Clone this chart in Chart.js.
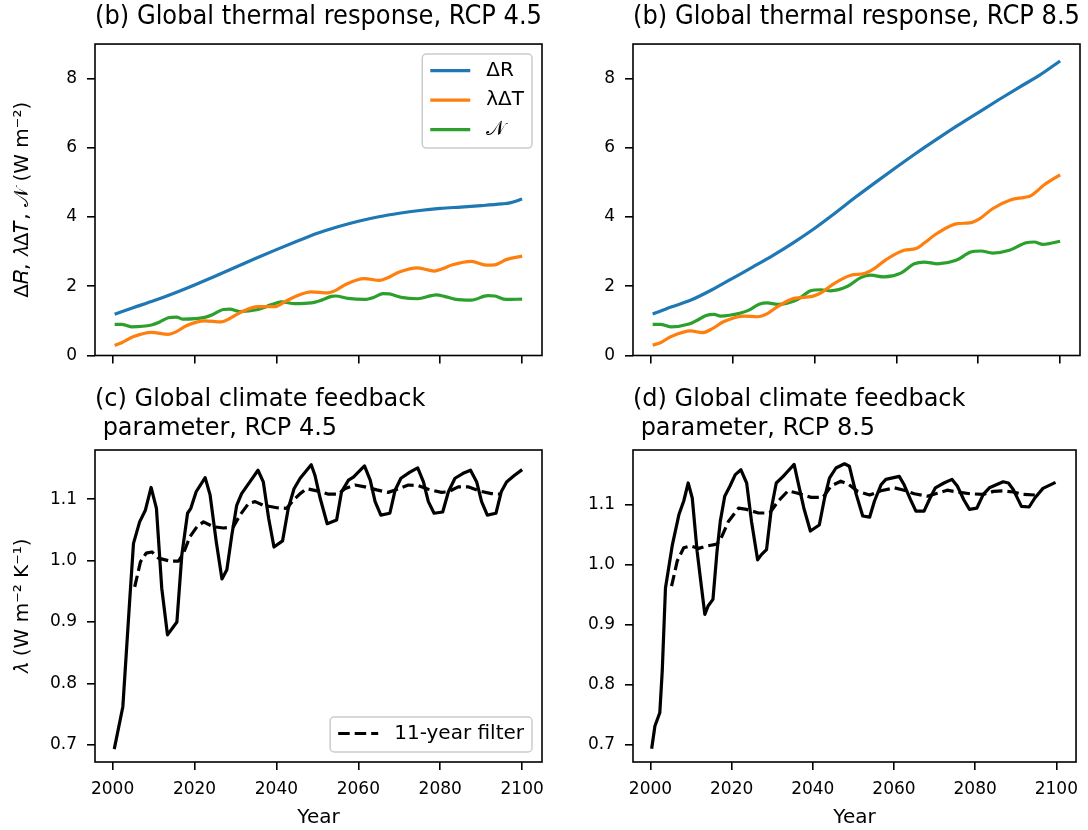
<!DOCTYPE html>
<html>
<head>
<meta charset="utf-8">
<script src="https://cdn.jsdelivr.net/npm/chart.js@4.4.0/dist/chart.umd.min.js"></script>
<style>
  html, body { margin: 0; padding: 0; background: #fff; }
  #wrap { position: relative; width: 1088px; height: 830px; overflow: hidden; }
  canvas { position: absolute; }
</style>
</head>
<body>
<div id="wrap">
  <canvas id="tl" width="560" height="380" style="left:0;top:0"></canvas>
  <canvas id="tr" width="528" height="380" style="left:560px;top:0"></canvas>
  <canvas id="bl" width="560" height="450" style="left:0;top:380px"></canvas>
  <canvas id="br" width="528" height="450" style="left:560px;top:380px"></canvas>
</div>
<script>
// --- tick labels ---
const yearTicks = [2000, 2020, 2040, 2060, 2080, 2100];
const fluxTicks = [0, 2, 4, 6, 8];
const lambdaTicks = [0.7, 0.8, 0.9, 1.0, 1.1];

// --- RCP 4.5, thermal response (W m-2), [year, value] ---
const rcp45_dR = [[2000.5,1.19],[2005,1.38],[2010,1.58],[2015,1.80],[2020,2.04],[2025,2.29],[2030,2.55],
  [2035,2.81],[2040,3.06],[2045,3.30],[2050,3.53],[2055,3.72],[2060,3.88],[2065,4.01],[2070,4.11],
  [2075,4.19],[2080,4.25],[2085,4.29],[2090,4.33],[2095,4.38],[2097,4.41],[2100,4.52]];
const rcp45_lamdT = [[2000.5,0.29],[2002.2,0.37],[2005,0.54],[2009.5,0.67],[2013.6,0.61],[2015.6,0.69],
  [2018,0.86],[2022.5,1.00],[2026.6,0.97],[2028.6,1.07],[2031,1.23],[2035.5,1.41],[2039.6,1.41],
  [2042,1.55],[2044.9,1.72],[2048.5,1.84],[2052.6,1.81],[2054.6,1.89],[2057,2.06],[2061.5,2.22],
  [2065.2,2.17],[2067.6,2.27],[2070,2.41],[2074.5,2.53],[2078.6,2.44],[2080.2,2.49],[2083,2.62],
  [2087.6,2.72],[2091.2,2.61],[2093.3,2.62],[2096.1,2.77],[2100,2.87]];
const rcp45_N = [[2000.5,0.90],[2002.2,0.90],[2004.6,0.83],[2009.5,0.88],[2011.5,0.97],[2013.6,1.09],
  [2015.6,1.11],[2017.2,1.05],[2022.5,1.10],[2024.6,1.19],[2027,1.33],[2028.6,1.34],[2031,1.27],
  [2035.5,1.33],[2038.8,1.47],[2041.2,1.55],[2044.5,1.50],[2048.5,1.52],[2051,1.60],[2053.4,1.71],
  [2054.4,1.72],[2057.5,1.65],[2061.5,1.62],[2064,1.69],[2066,1.79],[2067.6,1.78],[2070.5,1.68],
  [2074.5,1.64],[2077.8,1.73],[2079,1.75],[2081,1.71],[2083.5,1.63],[2087.6,1.60],[2091.6,1.73],
  [2093.3,1.72],[2096.1,1.62],[2100,1.63]];

// --- RCP 8.5, thermal response (W m-2) ---
const rcp85_dR = [[2000.5,1.20],[2005,1.40],[2010,1.61],[2015,1.90],[2020,2.23],[2025,2.56],[2030,2.90],
  [2035,3.27],[2040,3.67],[2045,4.11],[2050,4.57],[2055,5.01],[2060,5.44],[2065,5.86],[2070,6.26],
  [2075,6.65],[2080,7.02],[2085,7.39],[2090,7.75],[2095,8.10],[2100,8.51]];
const rcp85_lamdT = [[2000.5,0.30],[2002.4,0.37],[2004.9,0.54],[2009.8,0.71],[2012.6,0.66],[2014.7,0.75],
  [2017.9,0.98],[2022.8,1.14],[2026.1,1.12],[2028.5,1.21],[2031,1.41],[2035,1.65],[2039.5,1.71],
  [2042,1.84],[2044.8,2.08],[2048.9,2.32],[2052.2,2.37],[2054.6,2.51],[2057.5,2.77],[2061.9,3.04],
  [2064.8,3.09],[2066.8,3.25],[2070.1,3.54],[2074.9,3.81],[2077.8,3.83],[2080.3,3.95],[2083.5,4.24],
  [2088,4.50],[2091.3,4.57],[2092.9,4.62],[2096.2,4.94],[2100,5.22]];
const rcp85_N = [[2000.5,0.90],[2002.4,0.90],[2004.9,0.83],[2009.4,0.91],[2011.4,1.02],[2013.4,1.15],
  [2015.5,1.19],[2017.1,1.14],[2022,1.23],[2024,1.31],[2026.5,1.48],[2028.5,1.52],[2031,1.48],
  [2035.9,1.62],[2039.1,1.87],[2041.6,1.90],[2044,1.87],[2048.1,2.00],[2051.3,2.25],[2053.8,2.32],
  [2057,2.27],[2061.1,2.38],[2064.4,2.65],[2066.8,2.70],[2070.1,2.65],[2074.6,2.75],[2078.2,2.99],
  [2080.7,3.02],[2083.5,2.96],[2087.6,3.04],[2091.7,3.26],[2093.7,3.28],[2095.8,3.21],[2100,3.30]];

// --- climate feedback parameter (W m-2 K-1) ---
const rcp45_lambda = [[2000.4,0.693],[2002.5,0.762],[2004.2,0.938],[2005.1,1.028],[2006.6,1.063],
  [2008,1.082],[2009.4,1.119],[2010.7,1.085],[2012,0.955],[2013.4,0.879],[2015.7,0.900],[2016.9,1.009],
  [2018.3,1.077],[2019.1,1.085],[2020.4,1.112],[2022.6,1.135],[2023.8,1.107],[2025.3,1.031],
  [2026.7,0.970],[2027.9,0.985],[2029.1,1.041],[2030.3,1.090],[2031.5,1.109],[2033.6,1.129],
  [2035.5,1.147],[2036.8,1.128],[2038.1,1.069],[2039.4,1.022],[2041.5,1.032],[2042.9,1.085],
  [2044.3,1.117],[2045.8,1.134],[2048.5,1.156],[2049.4,1.139],[2050.7,1.101],[2052.4,1.060],
  [2054.7,1.066],[2055.9,1.112],[2057.6,1.131],[2058.8,1.136],[2061.5,1.154],[2062.9,1.131],
  [2064.1,1.096],[2065.5,1.074],[2067.7,1.077],[2069,1.115],[2070.4,1.134],[2072.6,1.144],
  [2074.5,1.151],[2075.9,1.128],[2077.1,1.096],[2078.5,1.077],[2080.6,1.079],[2082,1.112],
  [2083.6,1.134],[2085.6,1.142],[2087.4,1.147],[2088.9,1.128],[2090.1,1.096],[2091.5,1.074],
  [2093.6,1.077],[2094.9,1.112],[2096.2,1.128],[2098,1.138],[2100,1.148]];
const rcp45_lambda11 = [[2005.4,0.957],[2006.8,0.998],[2008.2,1.012],[2009.6,1.014],[2011.2,1.004],
  [2014.1,0.999],[2016.1,0.999],[2017.3,1.012],[2018.9,1.039],[2020.6,1.055],[2022.2,1.063],
  [2024.6,1.055],[2027.1,1.053],[2029.5,1.055],[2031.1,1.074],[2033.2,1.093],[2034.8,1.096],
  [2036.8,1.090],[2040.1,1.086],[2042.5,1.085],[2044.1,1.098],[2045.8,1.109],[2047.4,1.117],
  [2050.2,1.113],[2052.7,1.108],[2055.1,1.108],[2056.7,1.117],[2059.2,1.123],[2061.6,1.120],
  [2064.5,1.115],[2067.3,1.111],[2069,1.115],[2072.2,1.123],[2074.6,1.122],[2077.1,1.116],
  [2080.3,1.111],[2082,1.112],[2084.4,1.120],[2086.8,1.120],[2089.7,1.113],[2092.5,1.109],[2095,1.108]];
const rcp85_lambda = [[2000.3,0.693],[2001.1,0.731],[2002.3,0.753],[2002.9,0.822],[2003.7,0.961],
  [2005.4,1.033],[2007,1.083],[2008.2,1.106],[2009.3,1.136],[2010.3,1.111],[2011.5,1.022],
  [2012.6,0.961],[2013.4,0.917],[2014.2,0.931],[2015.4,0.942],[2016.4,1.022],[2017.2,1.072],
  [2018.3,1.114],[2019.6,1.131],[2020.9,1.150],[2022.3,1.158],[2023.7,1.136],[2024.9,1.072],
  [2026.4,1.008],[2027.4,1.017],[2028.6,1.025],[2029.8,1.094],[2031,1.136],[2032.7,1.147],
  [2033.9,1.156],[2035.4,1.167],[2036.3,1.139],[2037.8,1.094],[2039.4,1.056],[2041.6,1.066],
  [2042.9,1.111],[2044.1,1.144],[2045.7,1.161],[2047.8,1.168],[2049,1.164],[2050.7,1.117],
  [2052.3,1.081],[2054,1.079],[2055.2,1.106],[2056.8,1.133],[2058,1.142],[2061.3,1.147],
  [2062.5,1.133],[2064.1,1.108],[2065.4,1.089],[2067.4,1.089],[2068.9,1.111],[2070.2,1.128],
  [2072.3,1.136],[2074.3,1.142],[2075.6,1.131],[2077.2,1.108],[2078.6,1.092],[2080.4,1.094],
  [2082,1.117],[2083.5,1.128],[2086.9,1.138],[2088.2,1.136],[2089.4,1.125],[2091.4,1.097],
  [2093.3,1.096],[2094.7,1.111],[2096.7,1.127],[2099.8,1.137]];
const rcp85_lambda11 = [[2005.2,0.964],[2006.6,1.006],[2008.2,1.028],[2009.9,1.031],[2011.9,1.027],
  [2013.9,1.031],[2016.4,1.034],[2017.6,1.047],[2019.2,1.072],[2021.7,1.094],[2023.7,1.092],
  [2026.6,1.086],[2029.4,1.086],[2031.5,1.106],[2033.9,1.123],[2036.3,1.119],[2039.6,1.112],
  [2042.5,1.112],[2044.5,1.131],[2046.9,1.139],[2048.8,1.134],[2051.1,1.122],[2054,1.116],
  [2056.8,1.123],[2060.1,1.128],[2062.5,1.124],[2065,1.118],[2068.2,1.114],[2070.7,1.119],
  [2073.1,1.124],[2075.6,1.121],[2078.8,1.118],[2082,1.117],[2084.5,1.122],[2086.9,1.123],
  [2089.4,1.121],[2091.8,1.117],[2094.7,1.116]];

Chart.defaults.font.family = "'DejaVu Sans', sans-serif";
Chart.defaults.color = '#000';

// box around the plotting area (matplotlib style spines)
const framePlugin = {
  id: 'frame',
  afterDatasetsDraw(chart) {
    const a = chart.chartArea, ctx = chart.ctx;
    ctx.save();
    ctx.strokeStyle = '#000';
    ctx.lineWidth = 1.6;
    ctx.strokeRect(a.left, a.top, a.right - a.left, a.bottom - a.top);
    ctx.restore();
  }
};

// legend drawn inside the plot area, built from the labelled datasets
const boxLegendPlugin = {
  id: 'boxLegend',
  afterDraw(chart, args, opts) {
    const items = chart.data.datasets.filter(d => d.label);
    if (!items.length) return;
    const ctx = chart.ctx, a = chart.chartArea;
    const pad = 8, hLen = 40, hGap = 16, first = 16.5, step = 29.5, last = 18.5;
    ctx.save();
    ctx.font = "20px 'DejaVu Sans'";
    const tw = Math.max(...items.map(d => ctx.measureText(d.label).width));
    const w = pad + hLen + hGap + tw + pad;
    const h = first + (items.length - 1) * step + last;
    const x = a.right - 10 - w;
    const y = opts.corner === 'se' ? a.bottom - 10 - h : a.top + 10;
    const r = 4;
    ctx.beginPath();
    ctx.moveTo(x + r, y);
    ctx.arcTo(x + w, y, x + w, y + h, r);
    ctx.arcTo(x + w, y + h, x, y + h, r);
    ctx.arcTo(x, y + h, x, y, r);
    ctx.arcTo(x, y, x + w, y, r);
    ctx.closePath();
    ctx.fillStyle = 'rgba(255,255,255,0.8)';
    ctx.fill();
    ctx.strokeStyle = '#cccccc';
    ctx.lineWidth = 1.5;
    ctx.stroke();
    items.forEach((d, i) => {
      const cy = y + first + i * step;
      ctx.beginPath();
      ctx.setLineDash(d.borderDash || []);
      ctx.strokeStyle = d.borderColor;
      ctx.lineWidth = d.borderWidth;
      ctx.moveTo(x + pad, cy);
      ctx.lineTo(x + pad + hLen, cy);
      ctx.stroke();
      ctx.setLineDash([]);
      ctx.fillStyle = '#000';
      ctx.textAlign = 'left';
      ctx.textBaseline = 'middle';
      ctx.fillText(d.label, x + pad + hLen + hGap, cy);
    });
    ctx.restore();
  }
};

function tickMarks() {
  return { display: true, drawOnChartArea: false, drawTicks: true, tickLength: 8, color: '#000', lineWidth: 1.6 };
}

function panel(id, o) {
  return new Chart(document.getElementById(id), {
    type: 'line',
    data: { datasets: o.datasets },
    plugins: [framePlugin, boxLegendPlugin],
    options: {
      responsive: false,
      animation: false,
      devicePixelRatio: 1,
      layout: { autoPadding: false, padding: { left: 0, right: o.padRight, top: 0, bottom: 0 } },
      elements: { point: { radius: 0 }, line: { tension: 0, borderJoinStyle: 'round' } },
      plugins: {
        legend: { display: false },
        tooltip: { enabled: false },
        title: {
          display: true, text: o.title, align: 'start', fullSize: false,
          color: '#000', font: { size: o.titleSize, weight: 'normal' }, padding: o.titlePad
        },
        boxLegend: { corner: o.legendCorner }
      },
      scales: {
        x: {
          type: 'linear', position: 'bottom', min: 1995.7, max: 2104.85,
          afterBuildTicks: s => { s.ticks = yearTicks.map(v => ({ value: v })); },
          afterFit: s => { s.height = o.xHeight; },
          grid: tickMarks(),
          border: { display: false },
          ticks: { display: o.xLabels, padding: 9.5, font: { size: 17 }, maxRotation: 0, callback: v => String(v) },
          title: { display: o.xLabels, text: 'Year', font: { size: 20 }, padding: { top: 0, bottom: 0 } }
        },
        y: {
          type: 'linear', min: o.yMin, max: o.yMax,
          afterBuildTicks: s => { s.ticks = o.yTicks.map(v => ({ value: v })); },
          afterFit: s => { s.width = o.yWidth; },
          grid: tickMarks(),
          border: { display: false },
          ticks: { padding: 10, font: { size: 17 }, callback: o.yFormat },
          title: { display: !!o.yTitle, text: o.yTitle || '', font: { size: 20 }, padding: { top: 11, bottom: 0 } }
        }
      }
    }
  });
}

function thermalSets(dR, lamdT, N) {
  return [
    { label: 'ΔR', data: dR, borderColor: '#1f77b4', borderWidth: 3.2, cubicInterpolationMode: 'monotone' },
    { label: 'λΔT', data: lamdT, borderColor: '#ff7f0e', borderWidth: 3.2, cubicInterpolationMode: 'monotone' },
    { label: '𝒩', data: N, borderColor: '#2ca02c', borderWidth: 3.2, cubicInterpolationMode: 'monotone' }
  ];
}

function feedbackSets(lam, lam11) {
  return [
    { data: lam, borderColor: '#000', borderWidth: 3.2 },
    { label: '11-year filter', data: lam11, borderColor: '#000', borderWidth: 3.2, borderDash: [11.5, 5] }
  ];
}

const fluxFmt = v => String(v);
const lambdaFmt = v => v.toFixed(1);

panel('tl', {
  title: '(b) Global thermal response, RCP 4.5', titleSize: 25.7, titlePad: { top: 2.3, bottom: 10.9 },
  datasets: thermalSets(rcp45_dR, rcp45_lamdT, rcp45_N),
  padRight: 18, yWidth: 95, xHeight: 24.5, xLabels: false,
  yMin: 0, yMax: 9, yTicks: fluxTicks, yFormat: fluxFmt,
  yTitle: 'Δ𝑅, 𝜆Δ𝑇, 𝒩 (W m⁻²)', legendCorner: 'ne'
});

// only the left panel carries a legend; right one reuses unlabelled copies
const tr = thermalSets(rcp85_dR, rcp85_lamdT, rcp85_N).map(d => Object.assign(d, { label: undefined }));
panel('tr', {
  title: '(b) Global thermal response, RCP 8.5', titleSize: 25.7, titlePad: { top: 2.3, bottom: 10.9 },
  datasets: tr,
  padRight: 8, yWidth: 73, xHeight: 24.5, xLabels: false,
  yMin: 0, yMax: 9, yTicks: fluxTicks, yFormat: fluxFmt
});

panel('bl', {
  title: ['(c) Global climate feedback', ' parameter, RCP 4.5'], titleSize: 24, titlePad: { top: 5.8, bottom: 6.6 },
  datasets: feedbackSets(rcp45_lambda, rcp45_lambda11),
  padRight: 18, yWidth: 95, xHeight: 68, xLabels: true,
  yMin: 0.672, yMax: 1.18, yTicks: lambdaTicks, yFormat: lambdaFmt,
  yTitle: '𝜆 (W m⁻² K⁻¹)', legendCorner: 'se'
});

const br = feedbackSets(rcp85_lambda, rcp85_lambda11).map(d => Object.assign(d, { label: undefined }));
panel('br', {
  title: ['(d) Global climate feedback', ' parameter, RCP 8.5'], titleSize: 24, titlePad: { top: 5.8, bottom: 6.6 },
  datasets: br,
  padRight: 8, yWidth: 73, xHeight: 68, xLabels: true,
  yMin: 0.671, yMax: 1.191, yTicks: lambdaTicks, yFormat: lambdaFmt
});
</script>
</body>
</html>
